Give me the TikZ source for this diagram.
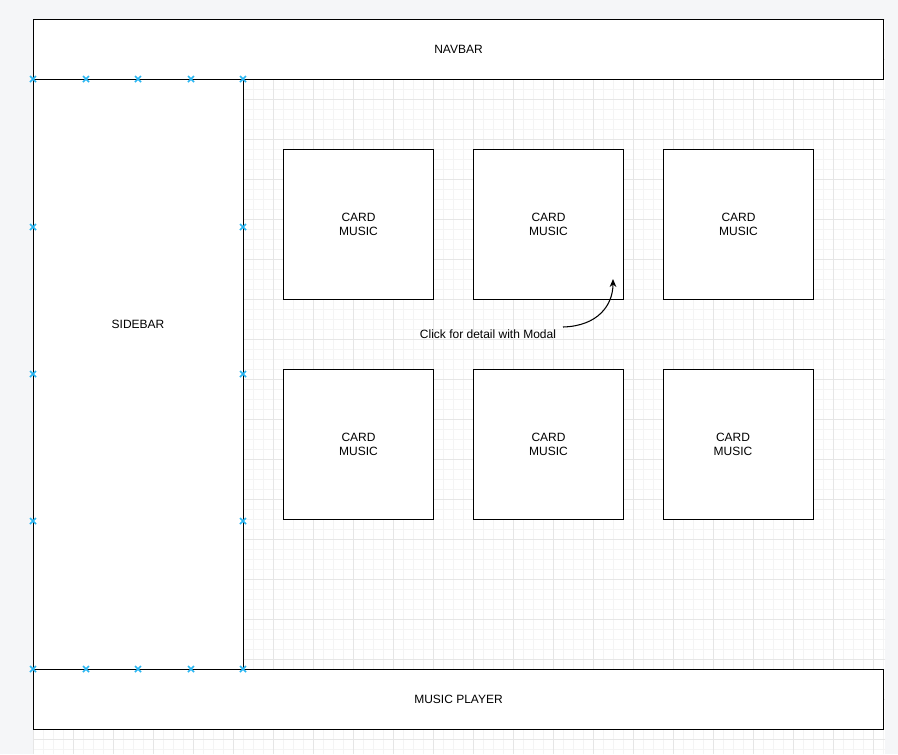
\documentclass[tikz,border=0pt]{standalone}
\usepackage{fontspec}
\setmainfont{Liberation Sans}
\usetikzlibrary{arrows.meta}
\definecolor{bgout}{HTML}{F5F6F8}
\definecolor{gridminor}{HTML}{F4F4F4}
\definecolor{gridmajor}{HTML}{E6E6E6}
\definecolor{handle}{HTML}{29B6F2}
\begin{document}
\begin{tikzpicture}[x=0.75pt,y=-0.75pt,
  box/.style={draw=black,fill=white,line width=0.8pt,inner sep=0pt,anchor=north west,
    font=\fontsize{9}{10.5}\selectfont,align=center},
  card/.style={box,minimum width=112.5pt,minimum height=112.5pt},
  lbl/.style={font=\fontsize{9}{10.5}\selectfont,align=center,inner sep=0pt},
  minorline/.style={gridminor,line width=0.75pt},
  majorline/.style={gridmajor,line width=0.75pt},
  handlemark/.style={handle,line width=1.2pt}]
\useasboundingbox (0,0) rectangle (898,754);
\fill[bgout] (0,0) rectangle (898,754);
\fill[white] (33,19) rectangle (885,754);
% grid
\foreach \x in {33,43,...,883} \draw[minorline] (\x,19) -- (\x,754);
\foreach \y in {19,29,...,749} \draw[minorline] (33,\y) -- (885,\y);
\foreach \x in {33,73,...,883} \draw[majorline] (\x,19) -- (\x,754);
\foreach \y in {19,59,...,739} \draw[majorline] (33,\y) -- (885,\y);
% main layout
\node[box,minimum width=637.5pt,minimum height=45pt] (navbar) at (33,19) {NAVBAR};
\node[box,minimum width=157.5pt,minimum height=442.5pt] (sidebar) at (33,79) {};
\node[lbl] (sidebartext) at (138,324.5) {SIDEBAR};
\node[box,minimum width=637.5pt,minimum height=45pt] (player) at (33,669) {MUSIC PLAYER};
% cards
\node[card] (card1) at (283,149) {CARD\\MUSIC};
\node[card] (card2) at (473,149) {CARD\\MUSIC};
\node[card] (card3) at (663,149) {CARD\\MUSIC};
\node[card] (card4) at (283,369) {CARD\\MUSIC};
\node[card] (card5) at (473,369) {CARD\\MUSIC};
\node[card] (card6) at (663,369) {};
\node[lbl] (card6text) at (733,444) {CARD\\MUSIC};
% annotation
\node[lbl] (modal) at (488,334.5) {Click for detail with Modal};
\coordinate (arrowstart) at (563,327);
\coordinate (arrowend) at (613,279);
\draw[line width=0.8pt,-{Stealth[length=6pt,width=5pt]}] (arrowstart) .. controls (598,326) and (613,305) .. (arrowend);
% selection handles
\foreach \hx/\hy in {33/79,86/79,138/79,191/79,243/79,
                33/669,86/669,138/669,191/669,243/669,
                33/227,33/374,33/521,243/227,243/374,243/521}{
  \draw[handlemark] (\hx-3,\hy-3) -- (\hx+3,\hy+3);
  \draw[handlemark] (\hx-3,\hy+3) -- (\hx+3,\hy-3);
}
\end{tikzpicture}
\end{document}
